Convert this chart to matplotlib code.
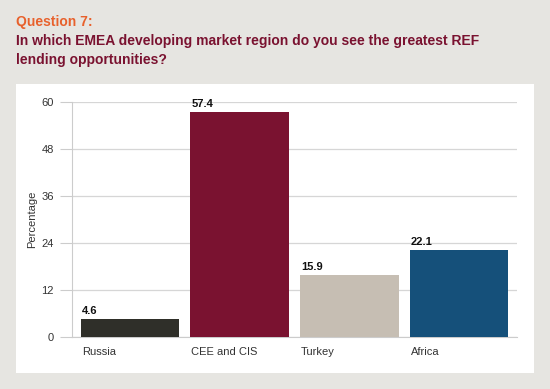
#!/usr/bin/env python3
"""Bar chart: EMEA developing market regions with greatest REF lending opportunities."""

import matplotlib
matplotlib.use("Agg")
import matplotlib.pyplot as plt
from matplotlib.patches import Rectangle

plt.rcParams["font.family"] = ["Liberation Sans", "DejaVu Sans"]

regions = ["Russia", "CEE and CIS", "Turkey", "Africa"]
percentages = [4.6, 57.4, 15.9, 22.1]
bar_colors = ["#2f2f29", "#7a1230", "#c6beb3", "#15507a"]
y_ticks = [0, 12, 24, 36, 48, 60]

W, H = 550, 389
fig = plt.figure(figsize=(W / 100, H / 100), dpi=100)
fig.patch.set_facecolor("#e6e5e1")

# white panel behind the chart
fig.add_artist(Rectangle((16 / W, 1 - 373 / H), (534 - 16) / W, (373 - 84) / H,
                         transform=fig.transFigure, facecolor="white", edgecolor="none", zorder=0))

fig.text(16 / W, 1 - 22 / H, "Question 7:", color="#e8612c", fontsize=10,
         fontweight="bold", va="center", ha="left")
fig.text(16 / W, 1 - 41 / H, "In which EMEA developing market region do you see the greatest REF",
         color="#7a1230", fontsize=10, fontweight="bold", va="center", ha="left")
fig.text(16 / W, 1 - 60 / H, "lending opportunities?",
         color="#7a1230", fontsize=10, fontweight="bold", va="center", ha="left")

ax = fig.add_axes([72 / W, 1 - 337 / H, (517 - 72) / W, (337 - 102) / H])
ax.set_facecolor("none")
ax.set_zorder(2)

xs = range(len(regions))
width = 0.9
ax.bar(xs, percentages, width=width, color=bar_colors, zorder=3)
for x, v in zip(xs, percentages):
    ax.text(x - width / 2 + 0.01, v + 0.8, f"{v}", ha="left", va="bottom",
            fontsize=8, fontweight="bold", color="#111111", zorder=4)

ax.set_xlim(-0.53, 3.53)
ax.set_ylim(0, 60)
ax.set_yticks(y_ticks)
ax.set_yticklabels([str(t) for t in y_ticks], fontsize=8, color="#333333")
ax.tick_params(axis="y", length=9, width=0.8, color="#cccccc", pad=4)
ax.set_xticks([x - width / 2 + 0.01 for x in xs])
ax.set_xticklabels(regions, fontsize=8, color="#333333", ha="left")
ax.tick_params(axis="x", length=0, pad=7)

ax.grid(axis="y", color="#d6d6d6", linewidth=0.9, zorder=1)
ax.set_axisbelow(True)
for side in ["top", "right"]:
    ax.spines[side].set_visible(False)
ax.spines["left"].set_color("#cccccc")
ax.spines["bottom"].set_color("#cccccc")
ax.spines["left"].set_linewidth(0.8)

ax.set_ylabel("Percentage", fontsize=8, color="#333333", labelpad=3)

fig.savefig("out.png", dpi=100, facecolor=fig.get_facecolor())
